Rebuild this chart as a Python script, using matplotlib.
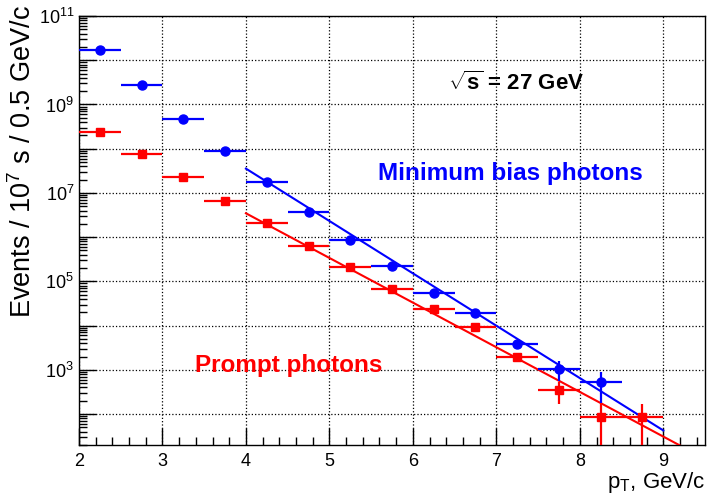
import numpy as np
import matplotlib
matplotlib.use('Agg')
import matplotlib.pyplot as plt
from matplotlib.ticker import FixedLocator, FuncFormatter, MultipleLocator

plt.rcParams['font.family'] = ['Liberation Sans', 'DejaVu Sans']
plt.rcParams['mathtext.fontset'] = 'custom'
plt.rcParams['mathtext.rm'] = 'Liberation Sans'
plt.rcParams['mathtext.it'] = 'Liberation Sans:italic'
plt.rcParams['mathtext.bf'] = 'Liberation Sans:bold'

# bin centres, half bin width 0.25 GeV/c
pt_mb = [2.25, 2.75, 3.25, 3.75, 4.25, 4.75, 5.25, 5.75, 6.25, 6.75, 7.25, 7.75, 8.25]
mb_y = [1.7e10, 2.75e9, 4.7e8, 8.9e7, 1.73e7, 3.7e6, 8.7e5, 2.24e5, 5.4e4,
        1.94e4, 3.9e3, 1.07e3, 534]
mb_err = [0, 0, 0, 0, 0, 0, 0, 0, 2e3, 1.5e3, 500, 520, 360]

pt_pr = [2.25, 2.75, 3.25, 3.75, 4.25, 4.75, 5.25, 5.75, 6.25, 6.75, 7.25, 7.75, 8.25, 8.75]
pr_y = [2.33e8, 7.5e7, 2.27e7, 6.5e6, 2.04e6, 6.3e5, 2.13e5, 6.6e4, 2.38e4,
        9.5e3, 2.0e3, 353, 86, 86]
pr_err = [0, 0, 0, 0, 0, 0, 0, 0, 2e3, 1e3, 300, 180, 85, 85]

# exponential fit lines (end points)
fit_mb_x = [4.0, 9.0]
fit_mb_y = [3.55e7, 42.7]
fit_pr_x = [4.0, 9.5]
fit_pr_y = [3.47e6, 9.7]

half_bin = 0.25

fig = plt.figure(figsize=(7.09, 4.98), dpi=100)
ax = fig.add_axes([0.1114, 0.1064, 0.883, 0.8614])
ax.set_yscale('log')

ax.errorbar(pt_mb, mb_y, xerr=half_bin, yerr=mb_err, fmt='o', color='#0000ff',
            ms=6.5, elinewidth=1.6, capsize=0, zorder=4)
ax.errorbar(pt_pr, pr_y, xerr=half_bin, yerr=pr_err, fmt='s', color='#ff0000',
            ms=6, elinewidth=1.6, capsize=0, zorder=4)
ax.plot(fit_pr_x, fit_pr_y, color='#ff0000', lw=1.5, zorder=3)
ax.plot(fit_mb_x, fit_mb_y, color='#0000ff', lw=1.5, zorder=3)

ax.set_xlim(2, 9.5)
ax.set_ylim(20, 1e11)

ax.xaxis.set_major_locator(MultipleLocator(1))
ax.xaxis.set_minor_locator(MultipleLocator(0.2))
ax.yaxis.set_major_locator(FixedLocator([10.0 ** k for k in range(1, 12)]))
minor = [m * 10.0 ** k for k in range(1, 11) for m in range(2, 10)]
ax.yaxis.set_minor_locator(FixedLocator(minor))
ax.yaxis.set_major_formatter(FuncFormatter(
    lambda v, p: r'$10^{%d}$' % round(np.log10(v)) if round(np.log10(v)) % 2 == 1 else ''))
ax.yaxis.set_minor_formatter(FuncFormatter(lambda v, p: ''))

ax.tick_params(which='both', direction='in', top=False, right=False, labelsize=13)
ax.tick_params(which='major', length=12, width=1)
ax.tick_params(which='minor', length=6, width=1)
ax.tick_params(axis='x', pad=6)

ax.grid(True, which='major', linestyle=':', color='black', linewidth=0.9)
for s in ax.spines.values():
    s.set_linewidth(1.0)

ax.set_ylabel(r'Events / 10$^7$ s / 0.5 GeV/c', fontsize=19.5, loc='top', labelpad=1)
ax.yaxis.label.set_y(1.025)
ax.set_xlabel(r'p$_{\mathrm{T}}$, GeV/c', fontsize=16, loc='right', labelpad=0)

ax.text(6.42, 10 ** 9.48, r'$\mathbf{\sqrt{s}}$ = 27 GeV', fontsize=16,
        fontweight='bold', va='center', ha='left')
ax.text(5.585, 10 ** 7.45, 'Minimum bias photons', fontsize=17.5, fontweight='bold',
        color='#0000ff', va='center', ha='left')
ax.text(3.39, 10 ** 3.10, 'Prompt photons', fontsize=17.5, fontweight='bold',
        color='#ff0000', va='center', ha='left')

fig.savefig('out.png', dpi=100)
